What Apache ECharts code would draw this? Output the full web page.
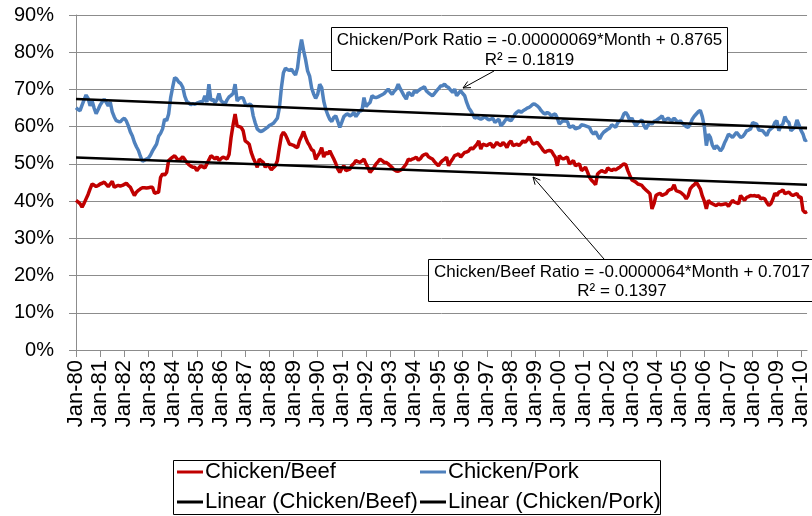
<!DOCTYPE html>
<html><head><meta charset="utf-8">
<script src="https://cdn.jsdelivr.net/npm/echarts@6/dist/echarts.min.js"></script>
<style>html,body{margin:0;padding:0;background:#fff}#c{width:812px;height:516px}</style>
</head><body><div id="c"></div>
<script>
const monthNames = ['Jan','Feb','Mar','Apr','May','Jun','Jul','Aug','Sep','Oct','Nov','Dec'];
const years = ['80','81','82','83','84','85','86','87','88','89','90','91','92','93','94','95','96','97','98','99','00','01','02','03','04','05','06','07','08','09','10'];
const lastMonthsOf2010 = 4;
const categories = [];
years.forEach((y, i) => {
  const n = (i === years.length - 1) ? lastMonthsOf2010 : 12;
  for (let k = 0; k < n; k++) categories.push(monthNames[k] + '-' + y);
});

const chickenBeef = [
40.2,39.8,39.3,38.4,39.4,40.6,41.8,43.3,44.6,44.3,43.9,44.2,
44.6,44.8,45.1,44.5,43.9,44.6,45.3,43.7,44.0,44.2,44.0,44.2,
44.5,44.8,44.2,43.7,42.6,41.5,42.4,42.9,43.3,43.6,43.6,43.5,
43.6,43.7,43.7,42.1,42.3,42.4,46.4,47.3,47.0,47.7,50.9,51.4,
51.8,52.2,51.5,50.9,51.4,51.9,51.2,50.4,49.8,49.4,49.1,49.1,
48.2,48.9,49.5,49.2,48.9,50.0,51.1,52.2,51.8,51.3,51.9,50.9,
51.4,51.8,51.6,51.3,52.5,57.1,60.5,63.4,60.2,60.0,59.8,58.9,
56.2,55.8,55.3,53.1,51.6,50.4,49.1,51.3,50.8,50.4,49.1,50.0,
49.2,48.4,49.0,49.5,50.9,54.4,57.6,58.5,57.8,56.6,55.3,55.2,
55.0,54.6,54.4,56.2,57.4,58.7,57.1,55.8,54.9,53.8,53.5,51.2,
52.2,53.0,54.4,51.8,53.1,52.6,53.5,52.4,51.3,50.1,48.6,47.7,
48.8,49.5,48.2,48.4,48.6,49.6,50.1,50.9,50.6,50.4,50.8,51.3,
50.0,49.0,47.7,48.4,49.1,50.0,50.6,51.3,50.9,50.4,50.4,50.0,
49.5,49.0,48.4,48.1,48.0,48.3,48.6,49.3,50.0,51.3,51.0,51.3,
51.5,51.8,51.0,51.4,52.2,52.5,52.7,51.9,51.6,51.3,50.6,50.0,
49.5,50.3,50.9,51.3,51.8,49.5,50.5,51.3,52.2,52.4,52.7,51.8,
52.5,53.1,53.2,53.5,54.3,54.0,54.6,55.2,56.2,54.0,55.3,55.1,
54.9,55.3,55.5,54.4,55.0,55.8,55.2,54.9,55.8,55.2,54.4,55.6,
56.2,54.9,55.1,55.3,54.9,55.5,56.2,55.8,56.4,57.3,56.2,55.3,
55.5,55.8,55.1,54.4,53.6,53.1,53.5,53.6,53.5,52.6,51.8,49.5,
52.2,51.6,51.3,51.6,51.8,50.0,50.4,50.9,49.5,49.8,50.0,48.2,
48.6,49.1,47.8,46.4,45.6,45.1,44.4,47.3,47.8,48.2,47.9,47.7,
48.9,48.5,48.2,48.6,48.4,48.8,49.1,49.6,50.0,49.8,48.2,46.9,
45.7,45.4,45.1,44.6,44.4,44.2,43.5,43.0,42.5,42.0,37.9,39.3,
41.5,41.9,42.1,41.5,41.8,42.0,42.8,43.1,43.3,44.4,42.8,42.6,
42.4,42.0,41.5,40.6,41.5,43.3,44.0,44.4,45.1,44.2,43.3,41.4,
40.0,37.9,40.2,39.6,39.3,39.0,38.8,39.3,39.0,39.1,39.2,39.3,
38.6,39.4,40.2,39.7,39.5,39.3,41.5,40.8,40.2,41.0,41.2,41.5,
41.4,41.5,41.3,41.5,40.6,40.8,40.6,39.6,38.8,39.3,40.5,42.1,
41.5,42.4,42.6,43.0,42.0,42.2,42.4,41.8,41.5,41.8,42.0,41.0,
41.1,37.5,36.9,37.2
];

const chickenPork = [
65.1,64.6,64.3,65.8,67.2,68.5,67.6,65.6,66.9,65.0,63.5,64.6,
65.8,66.6,67.4,66.5,65.6,66.6,64.0,62.6,61.6,61.4,61.3,61.9,
62.3,61.5,60.2,58.6,57.5,55.8,54.6,53.6,52.0,50.7,51.0,51.3,
51.6,52.4,53.5,54.4,55.3,57.4,58.2,59.4,62.0,61.6,63.4,67.8,
70.6,73.2,72.8,72.0,71.6,70.6,68.2,66.8,66.4,65.9,66.2,66.0,
66.3,66.5,66.7,66.8,68.3,66.6,71.4,67.0,67.4,66.4,67.2,68.9,
67.0,66.5,66.1,67.2,68.0,68.4,68.9,71.4,66.9,67.6,67.8,67.7,
66.2,65.6,66.0,65.9,62.9,61.0,59.4,58.9,58.7,59.0,59.4,59.8,
60.3,60.6,60.9,61.6,62.3,65.1,70.5,74.5,75.7,75.3,75.1,75.4,
74.6,73.9,75.8,80.3,83.4,80.5,78.0,75.0,73.6,70.4,68.8,67.6,
68.7,71.4,70.5,66.9,64.7,63.2,62.0,61.4,62.5,62.9,61.4,59.8,
61.2,62.7,63.2,63.4,62.9,63.2,63.8,62.7,63.5,64.4,64.3,67.8,
65.4,66.0,66.5,68.3,67.9,67.8,68.0,68.3,68.6,68.9,69.5,70.1,
69.3,68.7,69.5,70.1,71.4,70.2,69.2,68.2,67.4,69.2,68.8,68.3,
69.6,69.2,69.7,70.1,70.4,70.7,69.6,69.1,68.7,68.3,68.9,69.6,
70.2,70.9,71.0,71.4,70.8,70.5,69.8,69.2,70.1,68.3,69.0,69.6,
68.9,68.3,66.5,65.1,64.3,63.3,62.3,62.6,62.3,62.0,62.3,62.7,
62.2,61.8,62.0,62.3,61.1,61.6,62.0,60.2,60.8,61.6,62.3,61.8,
61.6,62.4,63.4,63.9,64.3,63.8,64.3,64.6,65.0,65.2,65.6,66.1,
66.0,65.6,65.1,64.3,63.7,63.4,63.8,63.5,62.9,63.2,63.4,62.3,
60.7,61.2,61.6,61.5,61.4,59.8,60.0,60.2,59.4,59.6,59.8,60.5,
60.4,60.2,60.0,59.8,58.6,58.0,58.7,57.6,56.7,57.8,58.5,58.9,
59.3,59.6,60.5,60.2,59.8,61.1,61.5,62.0,63.4,63.8,63.0,61.6,
62.3,61.2,60.2,61.0,61.4,61.8,60.3,59.4,60.4,61.1,60.7,61.4,
61.6,62.0,62.4,62.9,61.6,61.9,62.3,61.8,61.6,62.3,61.7,61.1,
61.6,61.0,60.5,60.0,59.8,60.7,62.0,62.8,63.4,64.0,64.4,62.7,
60.0,54.9,58.0,57.1,55.0,54.0,54.9,54.3,53.5,54.2,55.6,56.7,
58.0,57.6,57.1,57.8,58.5,57.8,57.1,57.3,58.0,58.9,59.1,59.4,
61.1,60.9,60.7,59.1,59.0,58.9,58.2,57.6,58.9,59.4,59.8,61.1,
61.6,58.9,60.2,60.7,62.7,61.6,61.1,58.9,59.4,59.8,61.8,60.5,
59.0,58.0,56.2,56.5
];

// Linear trend line values read at the first and last month
const trendBeefEnds = [51.7, 44.4];
const trendPorkEnds = [67.4, 59.6];

const yMin = 0, yMax = 90, yStep = 10;

const porkEquation = ['Chicken/Pork Ratio = -0.00000069*Month + 0.8765', 'R\u00B2 = 0.1819'];
const beefEquation = ['Chicken/Beef Ratio = -0.0000064*Month + 0.7017', 'R\u00B2 = 0.1397'];

const FONT = '"Liberation Sans", Arial, sans-serif';
const RED = '#C00000', BLUE = '#4F81BD', GRID = '#8C8C8C';

function arrow(x1, y1, x2, y2) {
  const ang = Math.atan2(y2 - y1, x2 - x1), L = 8, a = 0.45;
  const p1 = [x2 - L * Math.cos(ang - a), y2 - L * Math.sin(ang - a)];
  const p2 = [x2 - L * Math.cos(ang + a), y2 - L * Math.sin(ang + a)];
  return [
    { type: 'line', z: 100, shape: { x1, y1, x2, y2 }, style: { stroke: '#000', lineWidth: 1 } },
    { type: 'polyline', z: 100, shape: { points: [p1, [x2, y2], p2] }, style: { stroke: '#000', lineWidth: 1, fill: null } }
  ];
}
function box(x, y, w, h, lines, cx, y1, y2) {
  return [
    { type: 'rect', z: 100, shape: { x, y, width: w, height: h }, style: { fill: '#fff', stroke: '#000', lineWidth: 1 } },
    { type: 'text', z: 101, style: { text: lines[0], x: cx, y: y1, align: 'center', verticalAlign: 'middle', font: '17px ' + FONT, fill: '#000' } },
    { type: 'text', z: 101, style: { text: lines[1], x: cx, y: y2, align: 'center', verticalAlign: 'middle', font: '17px ' + FONT, fill: '#000' } }
  ];
}

const last = categories.length - 1;
const chart = echarts.init(document.getElementById('c'), null, { renderer: 'canvas' });
chart.setOption({
  animation: false,
  backgroundColor: '#fff',
  grid: { left: 76, right: 0, top: 15, bottom: 166, containLabel: false },
  xAxis: {
    type: 'category', data: categories, boundaryGap: false,
    axisLine: { lineStyle: { color: GRID, width: 1 } },
    axisTick: { show: true, interval: 11, length: 7, lineStyle: { color: GRID } },
    axisLabel: { interval: 11, rotate: 90, margin: 10, fontSize: 22, fontFamily: FONT, color: '#000' },
    splitLine: { show: false }
  },
  yAxis: {
    type: 'value', min: yMin, max: yMax, interval: yStep,
    axisLine: { show: true, lineStyle: { color: GRID, width: 1 } },
    axisTick: { show: true, length: 7, lineStyle: { color: GRID } },
    axisLabel: { formatter: '{value}%', margin: 22, fontSize: 20, fontFamily: FONT, color: '#000' },
    splitLine: { show: true, lineStyle: { color: GRID, width: 1 } }
  },
  legend: [
    { data: ['Chicken/Beef', 'Linear (Chicken/Beef)'], orient: 'vertical', left: 177, top: 461, padding: 0, itemGap: 8,
      itemWidth: 26, itemHeight: 3, icon: 'rect', selectedMode: false,
      textStyle: { fontSize: 22, fontFamily: FONT, color: '#000', lineHeight: 22, padding: [0, 0, 0, -3] } },
    { data: ['Chicken/Pork', 'Linear (Chicken/Pork)'], orient: 'vertical', left: 420, top: 461, padding: 0, itemGap: 8,
      itemWidth: 26, itemHeight: 3, icon: 'rect', selectedMode: false,
      textStyle: { fontSize: 22, fontFamily: FONT, color: '#000', lineHeight: 22, padding: [0, 0, 0, -3] } }
  ],
  series: [
    { name: 'Chicken/Beef', type: 'line', data: chickenBeef, showSymbol: false, symbol: 'none', z: 3,
      lineStyle: { color: RED, width: 3.5 }, itemStyle: { color: RED } },
    { name: 'Chicken/Pork', type: 'line', data: chickenPork, showSymbol: false, symbol: 'none', z: 4,
      lineStyle: { color: BLUE, width: 3.5 }, itemStyle: { color: BLUE } },
    { name: 'Linear (Chicken/Beef)', type: 'line', symbol: 'none', z: 5,
      data: [[categories[0], trendBeefEnds[0]], [categories[last], trendBeefEnds[1]]],
      lineStyle: { color: '#000', width: 2.5 }, itemStyle: { color: '#000' } },
    { name: 'Linear (Chicken/Pork)', type: 'line', symbol: 'none', z: 5,
      data: [[categories[0], trendPorkEnds[0]], [categories[last], trendPorkEnds[1]]],
      lineStyle: { color: '#000', width: 2.5 }, itemStyle: { color: '#000' } }
  ],
  graphic: [
    ...arrow(494, 71, 463, 88),
    ...arrow(604, 259, 533, 177),
    ...box(331.5, 27.5, 396, 43, porkEquation, 529.5, 40, 60),
    ...box(428.5, 259.5, 390, 42, beefEquation, 622, 272, 291),
    { type: 'rect', z: 100, shape: { x: 173.5, y: 460.5, width: 487, height: 54 }, style: { fill: null, stroke: '#000', lineWidth: 1 } }
  ]
});
</script>
</body></html>
